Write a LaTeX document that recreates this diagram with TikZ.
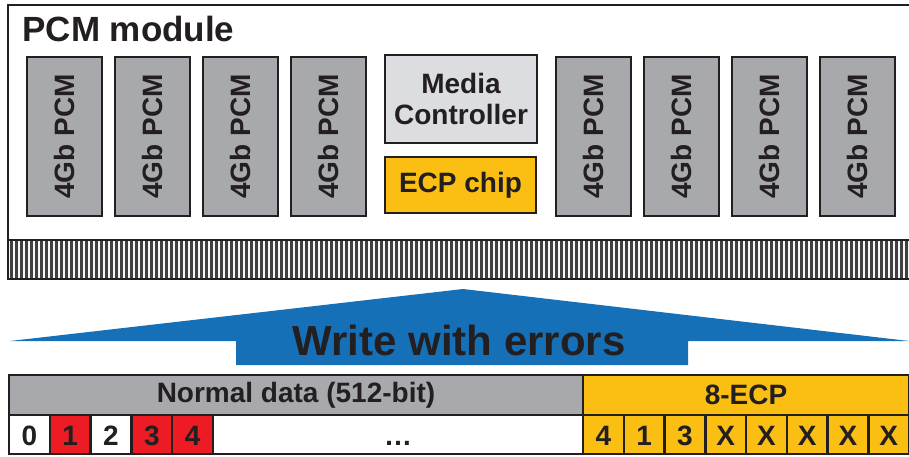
\documentclass[tikz,border=0pt]{standalone}
\usepackage{fontspec}
\setmainfont{Liberation Sans}
\definecolor{ink}{HTML}{231F20}
\definecolor{chipgray}{HTML}{A7A9AC}
\definecolor{ctrlgray}{HTML}{DCDDE0}
\definecolor{ecpyellow}{HTML}{FBBF14}
\definecolor{errred}{HTML}{ED1C24}
\definecolor{writeblue}{HTML}{1670B8}
\definecolor{pinlight}{HTML}{F7F7F7}
\definecolor{pindark}{HTML}{404040}
\begin{document}
\begin{tikzpicture}[x=1pt,y=-1pt,
  txt/.style={text=ink,font=\bfseries\fontsize{28}{33}\selectfont},
  chip/.style={txt,draw=ink,line width=2.5pt,fill=chipgray,rotate=90,
    minimum width=159pt,minimum height=75pt,inner sep=0pt},
  ctrl/.style={txt,draw=ink,line width=2.5pt,fill=ctrlgray,align=center,
    minimum width=152pt,minimum height=88pt,inner sep=0pt},
  ecpbox/.style={txt,draw=ink,line width=2.5pt,fill=ecpyellow,
    minimum width=151pt,minimum height=56pt,inner sep=0pt},
  cell/.style={txt,draw=ink,line width=2.5pt,inner sep=0pt,
    text height=22pt,text depth=0pt,
    minimum width=40.8pt,minimum height=39pt},
  hdr/.style={txt,draw=ink,line width=2.5pt,inner sep=0pt,minimum height=40pt}]
\useasboundingbox (0,0) rectangle (909,456);

% module board and its edge connector
\draw[ink,line width=2.5pt,fill=white] (915,5) -- (8,5) -- (8,279) -- (915,279);
\fill[pinlight] (9,241) rectangle (915,278);
\foreach \i in {0,...,181} \fill[pindark] (10+\i*5,241) rectangle ++(2.5,37);
\draw[ink,line width=2.5pt] (8,240) -- (915,240);
\draw[ink,line width=2.5pt] (8,279) -- (915,279);

\node[txt,anchor=base west,font=\bfseries\fontsize{35}{40}\selectfont] (title) at (19,41) {PCM module};

% memory chips
\foreach \x [count=\k] in {64.5,152.5,240.5,328.5,593.5,681.5,769.5,857.5}
  \node[chip] (pcm\k) at (\x,136.5) {4Gb PCM};

\node[ctrl] (mc) at (461,99) {Media\\[-2pt]Controller};
\node[ecpbox] (ecp) at (460.5,185) {ECP chip};

% write arrow
\fill[writeblue] (10,341) -- (463,289) -- (909,341) -- (688,341) -- (688,365)
  -- (236,365) -- (236,341) -- cycle;
\node[txt,anchor=base,font=\bfseries\fontsize{42}{46}\selectfont] (write) at (459,355) {Write with errors};

% data layout
\node[hdr,fill=chipgray,minimum width=574pt] (normal) at (296,395) {Normal data (512-bit)};
\node[hdr,fill=ecpyellow,minimum width=326pt] (ecphdr) at (746,395) {8-ECP};
\foreach \v/\c [count=\k from 0] in {0/white,1/errred,2/white,3/errred,4/errred}
  \node[cell,fill=\c] (d\k) at (29.4+\k*40.8,434.5) {\v};
\node[cell,fill=white,minimum width=370pt] (rest) at (398,434.5) {…};
\foreach \v [count=\k] in {4,1,3,X,X,X,X,X}
  \node[cell,fill=ecpyellow,minimum width=40.75pt] (e\k) at (583+\k*40.75-20.375,434.5) {\v};
\end{tikzpicture}
\end{document}
